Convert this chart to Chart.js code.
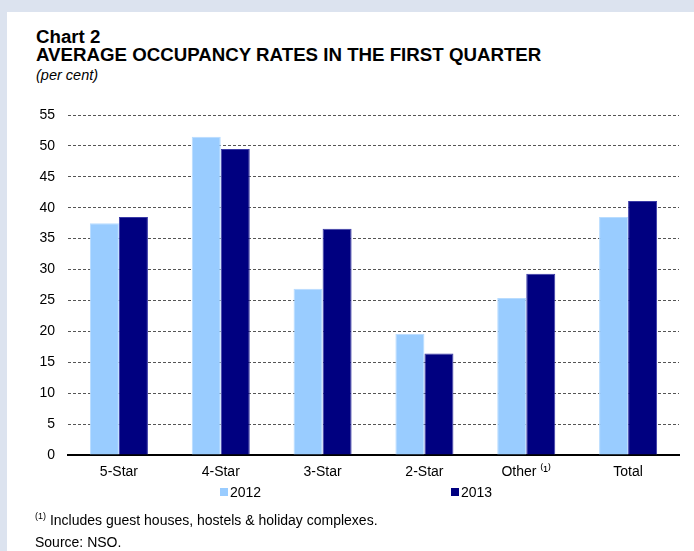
<!DOCTYPE html>
<html>
<head>
<meta charset="utf-8">
<script src="https://cdn.jsdelivr.net/npm/chart.js@4"></script>
<style>
  body { margin: 0; background: #dce3ef; font-family: "Liberation Sans", Arial, sans-serif; }
  #panel { position: absolute; left: 7px; top: 12px; width: 687px; height: 539px; background: #fff; }
  #wrap { position: absolute; left: 0; top: 0; width: 694px; height: 551px; }
  .t { position: absolute; color: #000; white-space: nowrap; }
  .box { display: inline-block; width: 8px; height: 8px; margin-right: 2px; vertical-align: 1px; }
</style>
</head>
<body>
<div id="panel"></div>
<div class="t" style="left:36px;top:26px;font-size:18.7px;font-weight:bold;">Chart 2</div>
<div class="t" style="left:36px;top:44px;font-size:18.7px;font-weight:bold;">AVERAGE OCCUPANCY RATES IN THE FIRST QUARTER</div>
<div class="t" style="left:36px;top:67px;font-size:14.5px;font-style:italic;">(per cent)</div>
<div id="wrap"><canvas id="myChart" width="694" height="551"></canvas></div>
<div class="t" style="left:220px;top:484px;font-size:14px;"><span class="box" style="background:#99ccff"></span>2012</div>
<div class="t" style="left:451px;top:484px;font-size:14px;"><span class="box" style="background:#000080"></span>2013</div>
<div class="t" style="left:35px;top:511px;font-size:14px;"><sup style="font-size:9px">(1)</sup> Includes guest houses, hostels &amp; holiday complexes.</div>
<div class="t" style="left:35px;top:534px;font-size:14px;">Source: NSO.</div>
<script>
const labels = ['5-Star', '4-Star', '3-Star', '2-Star', 'Other \u207D\u00B9\u207E', 'Total'];
const values2012 = [37.5, 51.5, 26.9, 19.6, 25.4, 38.5];
const values2013 = [38.5, 49.5, 36.6, 16.4, 29.3, 41.1];

const data = {
  labels: labels,
  datasets: [{
    label: '2012',
    data: values2012,
    backgroundColor: '#99ccff',
    borderColor: '#b8dcff',
    borderWidth: 1,
    categoryPercentage: 0.57,
    barPercentage: 1
  }, {
    label: '2013',
    data: values2013,
    backgroundColor: '#000080',
    borderColor: '#3a3aa6',
    borderWidth: 1,
    categoryPercentage: 0.57,
    barPercentage: 1
  }]
};

const config = {
  type: 'bar',
  data: data,
  options: {
    responsive: false,
    animation: false,
    layout: { padding: { left: 0, right: 15, top: 115, bottom: 66 } },
    plugins: {
      legend: { display: false },
      tooltip: { enabled: false }
    },
    scales: {
      x: {
        afterFit: (s) => { s.height = 30; },
        grid: { display: false, drawTicks: false },
        border: { display: true, color: '#000', width: 2 },
        ticks: { color: '#000', padding: 9, font: { family: 'Liberation Sans', size: 14 } }
      },
      y: {
        min: 0,
        max: 55,
        afterFit: (s) => { s.width = 68; },
        ticks: { stepSize: 5, color: '#000', padding: 13, font: { family: 'Liberation Sans', size: 14 } },
        grid: {
          drawTicks: false,
          color: (c) => c.tick && c.tick.value === 0 ? 'rgba(0,0,0,0)' : '#555',
          lineWidth: 1
        },
        border: { display: false, dash: [3, 2] }
      }
    }
  }
};

const myChart = new Chart(document.getElementById('myChart'), config);
</script>
</body>
</html>
